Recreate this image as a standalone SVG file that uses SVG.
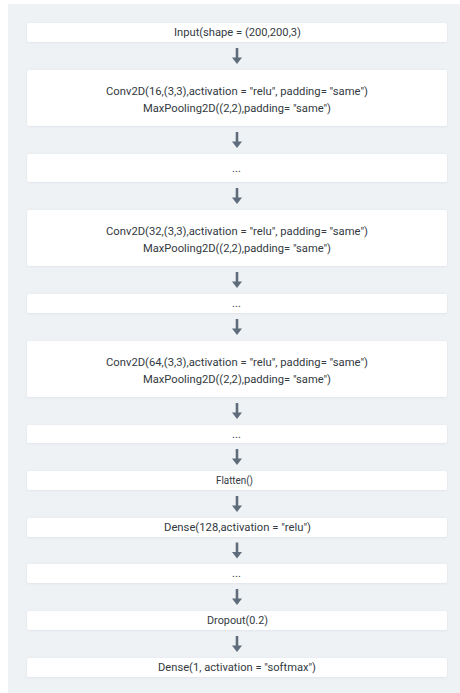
<svg xmlns="http://www.w3.org/2000/svg" width="460" height="693" viewBox="0 0 460 693">
  <style>
    .panel { fill: #eff2f5; }
    .box { fill: #ffffff; filter: url(#soft); }
    .lbl { font-family: Roboto, "Liberation Sans", sans-serif; font-size: 11.2px; fill: #333a42; text-anchor: middle; }
    .shaft { stroke: #5f6c7b; stroke-width: 2.6; }
    .head { fill: #5f6c7b; }
  </style>
  <defs>
    <filter id="soft" x="-5%" y="-20%" width="110%" height="140%">
      <feDropShadow dx="0" dy="0.5" stdDeviation="0.8" flood-color="#9aa6b2" flood-opacity="0.25"/>
    </filter>
    <g id="arrow">
      <line class="shaft" x1="0" y1="-8" x2="0" y2="2.5"/>
      <polygon class="head" points="-5,1.5 5,1.5 0,8"/>
    </g>
  </defs>

  <rect width="460" height="693" fill="#ffffff"/>
  <rect class="panel" x="8" y="4" width="452" height="689"/>

  <g id="connectors">
    <use href="#arrow" x="237" y="56"/>
    <use href="#arrow" x="237" y="140"/>
    <use href="#arrow" x="237" y="196"/>
    <use href="#arrow" x="237" y="280"/>
    <use href="#arrow" x="237" y="327"/>
    <use href="#arrow" x="237" y="411"/>
    <use href="#arrow" x="237" y="457"/>
    <use href="#arrow" x="237" y="504"/>
    <use href="#arrow" x="237" y="550.5"/>
    <use href="#arrow" x="237" y="597"/>
    <use href="#arrow" x="237" y="644"/>
  </g>

  <g id="input">
    <rect class="box" x="27" y="23" width="420" height="19" rx="2"/>
    <text class="lbl" x="237.5" y="36.3" textLength="127" lengthAdjust="spacingAndGlyphs">Input(shape = (200,200,3)</text>
  </g>

  <g id="conv16">
    <rect class="box" x="27" y="70" width="420" height="56" rx="2"/>
    <text class="lbl" x="237" y="94.5" textLength="262" lengthAdjust="spacingAndGlyphs">Conv2D(16,(3,3),activation = "relu", padding= "same")</text>
    <text class="lbl" x="237" y="111.5" textLength="188" lengthAdjust="spacingAndGlyphs">MaxPooling2D((2,2),padding= "same")</text>
  </g>

  <g id="gap1">
    <rect class="box" x="27" y="154" width="420" height="28" rx="2"/>
    <text class="lbl" x="236.5" y="171.5">...</text>
  </g>

  <g id="conv32">
    <rect class="box" x="27" y="210" width="420" height="56" rx="2"/>
    <text class="lbl" x="237" y="234.5" textLength="262" lengthAdjust="spacingAndGlyphs">Conv2D(32,(3,3),activation = "relu", padding= "same")</text>
    <text class="lbl" x="237" y="251.5" textLength="188" lengthAdjust="spacingAndGlyphs">MaxPooling2D((2,2),padding= "same")</text>
  </g>

  <g id="gap2">
    <rect class="box" x="27" y="294" width="420" height="19" rx="2"/>
    <text class="lbl" x="236.5" y="307">...</text>
  </g>

  <g id="conv64">
    <rect class="box" x="27" y="341" width="420" height="56" rx="2"/>
    <text class="lbl" x="237" y="365.5" textLength="262" lengthAdjust="spacingAndGlyphs">Conv2D(64,(3,3),activation = "relu", padding= "same")</text>
    <text class="lbl" x="237" y="382.5" textLength="188" lengthAdjust="spacingAndGlyphs">MaxPooling2D((2,2),padding= "same")</text>
  </g>

  <g id="gap3">
    <rect class="box" x="27" y="425" width="420" height="18" rx="2"/>
    <text class="lbl" x="236.5" y="437.5">...</text>
  </g>

  <g id="flatten">
    <rect class="box" x="27" y="471" width="420" height="19" rx="2"/>
    <text class="lbl" x="234.5" y="484.3" textLength="37" lengthAdjust="spacingAndGlyphs">Flatten()</text>
  </g>

  <g id="dense128">
    <rect class="box" x="27" y="518" width="420" height="19" rx="2"/>
    <text class="lbl" x="237.5" y="531.3" textLength="147" lengthAdjust="spacingAndGlyphs">Dense(128,activation = "relu")</text>
  </g>

  <g id="gap4">
    <rect class="box" x="27" y="564" width="420" height="19" rx="2"/>
    <text class="lbl" x="236.5" y="577">...</text>
  </g>

  <g id="dropout">
    <rect class="box" x="27" y="611" width="420" height="19" rx="2"/>
    <text class="lbl" x="237.5" y="624.3" textLength="61" lengthAdjust="spacingAndGlyphs">Dropout(0.2)</text>
  </g>

  <g id="dense1">
    <rect class="box" x="27" y="658" width="420" height="19" rx="2"/>
    <text class="lbl" x="237" y="671.3" textLength="158" lengthAdjust="spacingAndGlyphs">Dense(1, activation = "softmax")</text>
  </g>
</svg>
